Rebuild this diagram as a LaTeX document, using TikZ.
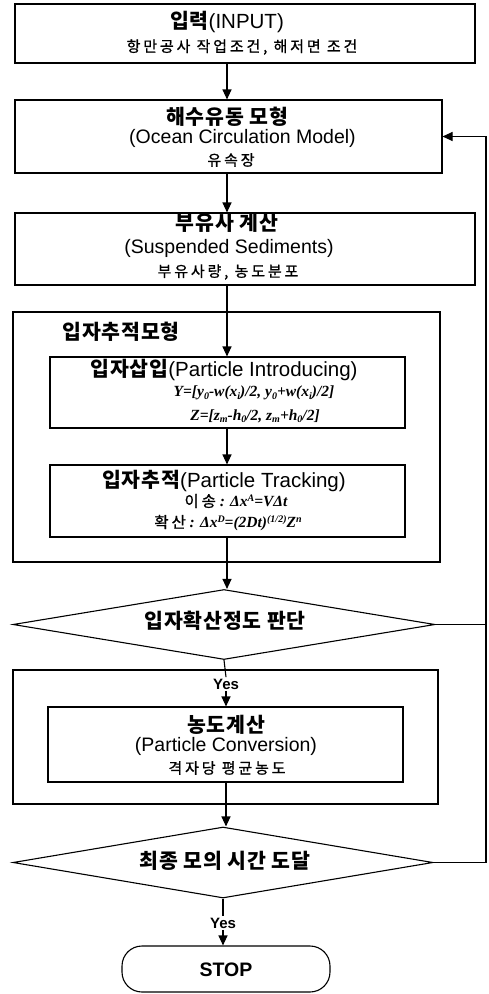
\documentclass[tikz,border=0pt]{standalone}
\usepackage{fontspec}
\setmainfont{Liberation Sans}
\newfontfamily\krT[LetterSpace=4]{Noto Sans CJK KR}
\newfontfamily\krS[LetterSpace=19,FakeBold=1]{Noto Sans CJK KR}
\newfontfamily\tms{Liberation Serif}
\usetikzlibrary{arrows.meta,shapes.geometric}
\newcommand\ttl[1]{{\krT\bfseries #1}}
\newcommand\mylo[1]{\raisebox{-0.35ex}{\fontsize{10}{10}\selectfont #1}}
\newcommand\myhi[1]{\raisebox{0.75ex}{\fontsize{10}{10}\selectfont #1}}
\newcommand\krn[1]{{\krS\mdseries\upshape #1}}
\tikzset{
  box/.style={draw, line width=1.1pt, inner sep=0pt},
  dia/.style={draw, diamond, line width=1.1pt, inner sep=0pt},
  ln/.style={line width=1.1pt},
  arr/.style={line width=1.1pt, -{Triangle[length=10pt,width=9pt]}},
  tx/.style={inner sep=0pt, font=\fontsize{20.5}{24}\selectfont},
  en/.style={inner sep=0pt, font=\fontsize{19.5}{23}\selectfont},
  sb/.style={inner sep=0pt, font=\krS\fontsize{15}{17}\selectfont},
  fm/.style={inner sep=0pt, font=\tms\bfseries\itshape\fontsize{15.5}{18}\selectfont},
  yes/.style={inner sep=1.5pt, font=\bfseries\fontsize{15}{17}\selectfont},
}
\begin{document}
\begin{tikzpicture}[x=1pt,y=-1pt]
\useasboundingbox (0,0) rectangle (488,994);
% boxes
\node[box, minimum width=460pt, minimum height=59pt] (in) at (245,33.5) {};
\node[box, minimum width=427pt, minimum height=73pt] (ocm) at (228.5,136.5) {};
\node[box, minimum width=460pt, minimum height=72pt] (ss) at (245,249) {};
\node[box, minimum width=427pt, minimum height=250pt] (oa) at (226.5,437) {};
\node[box, minimum width=355pt, minimum height=71pt] (ip1) at (227.5,392.5) {};
\node[box, minimum width=355pt, minimum height=72pt] (ip2) at (227.5,501) {};
\node[dia, minimum width=422pt, minimum height=70pt] (d1) at (224,624.5) {};
\node[box, minimum width=425pt, minimum height=134pt] (ob) at (225.5,737) {};
\node[box, minimum width=355pt, minimum height=75pt] (ip3) at (225.5,744.5) {};
\node[dia, minimum width=420pt, minimum height=71pt] (d2) at (223,862.5) {};
\node[box, minimum width=208pt, minimum height=46pt, rounded corners=20pt] (stop) at (226,969) {};
\coordinate (col) at (227,0);
\coordinate (rt) at (486,136.5);
% texts
\node[tx] (t1a) at (227,22) {\ttl{입력}(INPUT)};
\node[sb] (t1b) at (242,47) {항만공사 작업조건, 해저면 조건};
\node[tx] (t2a) at (227,117) {\ttl{해수유동 모형}};
\node[en] (t2b) at (242.5,138) {(Ocean Circulation Model)};
\node[sb] (t2c) at (231,160) {유속장};
\node[tx] (t3a) at (227,223) {\ttl{부유사 계산}};
\node[en] (t3b) at (229,248) {(Suspended Sediments)};
\node[sb] (t3c) at (228,272) {부유사량, 농도분포};
\node[tx] (tA) at (121,332) {\ttl{입자추적모형}};
\node[tx] (t4a) at (224,370) {\ttl{입자삽입}(Particle Introducing)};
\node[fm] (t4b) at (254,393) {Y=[y\mylo{0}-w(x\mylo{i})/2, y\mylo{0}+w(x\mylo{i})/2]};
\node[fm] (t4c) at (255,416) {Z=[z\mylo{m}-h\mylo{0}/2, z\mylo{m}+h\mylo{0}/2]};
\node[tx] (t5a) at (224,481) {\ttl{입자추적}(Particle Tracking)};
\node[fm] (t5b) at (236,501) {\krn{이송} : Δx\myhi{A}=VΔt};
\node[fm] (t5c) at (228,523) {\krn{확산} : Δx\myhi{D}=(2Dt)\myhi{(1/2)}Z\myhi{n}};
\node[tx] (t6) at (225,621) {\ttl{입자확산정도 판단}};
\node[tx] (t7a) at (226,725) {\ttl{농도계산}};
\node[en] (t7b) at (226,746) {(Particle Conversion)};
\node[sb] (t7c) at (227,768) {격자당 평균농도};
\node[tx] (t8) at (225,861) {\ttl{최종 모의 시간 도달}};
\node[yes] (y1) at (226,684) {Yes};
\node[yes] (y2) at (223,923) {Yes};
\node[inner sep=0pt, font=\bfseries\fontsize{19.5}{22}\selectfont] (t9) at (226,970) {STOP};
% connectors
\draw[arr] (in.south -| col) -- (ocm.north -| col);
\draw[arr] (ocm.south -| col) -- (ss.north -| col);
\draw[arr] (ss.south -| col) -- (ip1.north -| col);
\draw[arr] (ip1.south -| col) -- (ip2.north -| col);
\draw[arr] (ip2.south -| col) -- (d1.north -| col);
\draw[ln] (d1.south) -- (y1.north);
\draw[arr] (y1.south) -- (ip3.north -| y1);
\draw[arr] (ip3.south -| y1) -- (d2.north -| y1);
\draw[ln] (d2.south) -- (y2.north);
\draw[arr] (y2.south) -- (stop.north -| y2);
\draw[arr] (d2.east) -| (rt) -- (ocm.east);
\draw[ln] (d1.east) -- (d1.east -| rt);
\end{tikzpicture}
\end{document}
